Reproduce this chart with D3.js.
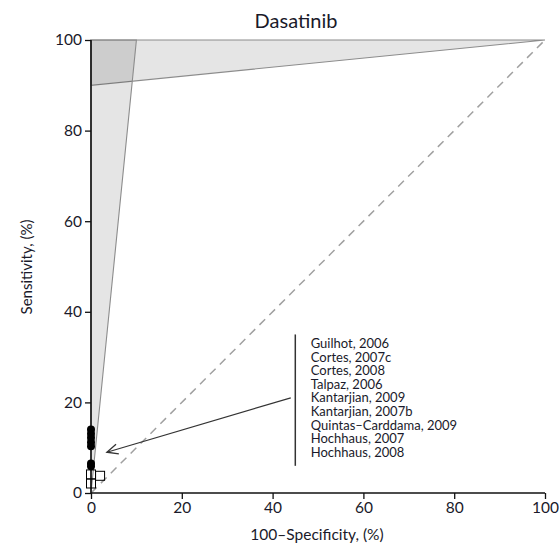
<!DOCTYPE html>
<html><head><meta charset="utf-8">
<script src="https://cdn.jsdelivr.net/npm/d3@7"></script>
<style>body{margin:0;background:#fff}svg{display:block}text{font-family:Lato,"Open Sans",sans-serif;fill:#1a1a2a}</style>
</head><body><svg id="c" width="560" height="546"></svg>
<script>
const title = "Dasatinib";
const xLabel = "100\u2013Specificity, (%)";
const yLabel = "Sensitivity, (%)";
const xTicks = [0,20,40,60,80,100];
const yTicks = [0,20,40,60,80,100];
// shaded regions (data coordinates)
const specBand = [[0,100],[100,100],[0,90]];
const sensBand = [[0,0],[0,100],[10,100]];
const diagonal = [[0,0],[100,100]];
// studies: filled circles and open squares
const circleFpr = [0,0,0,0,0,0,0];
const circleSens = [14.0,13.1,12.2,11.2,10.3,6.5,5.9];
const squareFpr = [0,0,2.0];
const squareSens = [4.1,2.1,3.8];
const studies = ["Guilhot, 2006","Cortes, 2007c","Cortes, 2008","Talpaz, 2006","Kantarjian, 2009","Kantarjian, 2007b","Quintas\u2013Carddama, 2009","Hochhaus, 2007","Hochhaus, 2008"];
const bracket = [[45,35],[45,6]];
const arrowFrom = [44,21];
const arrowTo = [3.5,9];
const labelX = 48.4;

const svg = d3.select("#c");
const x = d3.scaleLinear().domain([0,100]).range([91,545]);
const y = d3.scaleLinear().domain([0,100]).range([493,40]);
const line = d3.line().x(d=>x(d[0])).y(d=>y(d[1]));

svg.append("defs").append("marker").attr("id","ah").attr("viewBox","-13 -7 15 14")
  .attr("refX",0).attr("refY",0).attr("markerWidth",15).attr("markerHeight",14)
  .attr("markerUnits","userSpaceOnUse").attr("orient","auto")
  .append("path").attr("d","M-11,-5 L0,0 L-11,5").attr("fill","none").attr("stroke","#333").attr("stroke-width",1.3);

[specBand, sensBand].forEach(p=>{
  svg.append("path").attr("d", line(p)+"Z").attr("fill","#000").attr("fill-opacity",0.1)
    .attr("stroke","#8c8c8c").attr("stroke-width",1.1);
});
svg.append("path").attr("d",line(diagonal)).attr("stroke","#a0a0a0").attr("stroke-width",1.5)
  .attr("stroke-dasharray","8,6").attr("fill","none");

// axes
const gx = svg.append("g").attr("transform",`translate(0,${y(0)})`)
  .call(d3.axisBottom(x).tickValues(xTicks).tickSize(6).tickPadding(3));
const gy = svg.append("g").attr("transform",`translate(${x(0)},0)`)
  .call(d3.axisLeft(y).tickValues(yTicks).tickSize(6).tickPadding(3));
[gx,gy].forEach(g=>{
  g.select(".domain").attr("stroke","#111").attr("stroke-width",1.6);
  g.selectAll(".tick line").attr("stroke","#111").attr("stroke-width",1.3);
  g.selectAll(".tick text").style("font-family","Lato,sans-serif").style("font-size","15.5px").attr("fill","#1a1a2a");
});
gx.select(".domain").attr("d",`M${x(0)},0H${x(100)}`);
gy.select(".domain").attr("d",`M0,${y(0)}V${y(100)}`);

// points
svg.append("g").selectAll("circle").data(circleSens).join("circle")
  .attr("cx",(d,i)=>x(circleFpr[i])).attr("cy",d=>y(d)).attr("r",4).attr("fill","#000");
svg.append("g").selectAll("rect").data(squareSens).join("rect")
  .attr("x",(d,i)=>x(squareFpr[i])-4.5).attr("y",d=>y(d)-4.5).attr("width",9).attr("height",9)
  .attr("fill","none").attr("stroke","#000").attr("stroke-width",1);

// bracket and arrow
svg.append("path").attr("d",line(bracket)).attr("stroke","#333").attr("stroke-width",1.5);
svg.append("path").attr("d",line([arrowFrom,arrowTo])).attr("stroke","#333").attr("stroke-width",1.2)
  .attr("fill","none").attr("marker-end","url(#ah)");

svg.append("g").selectAll("text").data(studies).join("text")
  .attr("x",x(labelX)).attr("y",(d,i)=>348+i*13.6).style("font-size","13px").text(d=>d);

svg.append("text").attr("x",296).attr("y",28).attr("text-anchor","middle").style("font-size","20px").text(title);
svg.append("text").attr("x",317).attr("y",540).attr("text-anchor","middle").style("font-size","15.5px").text(xLabel);
svg.append("text").attr("transform","translate(32,267) rotate(-90)").attr("text-anchor","middle").style("font-size","15px").text(yLabel);
</script></body></html>
